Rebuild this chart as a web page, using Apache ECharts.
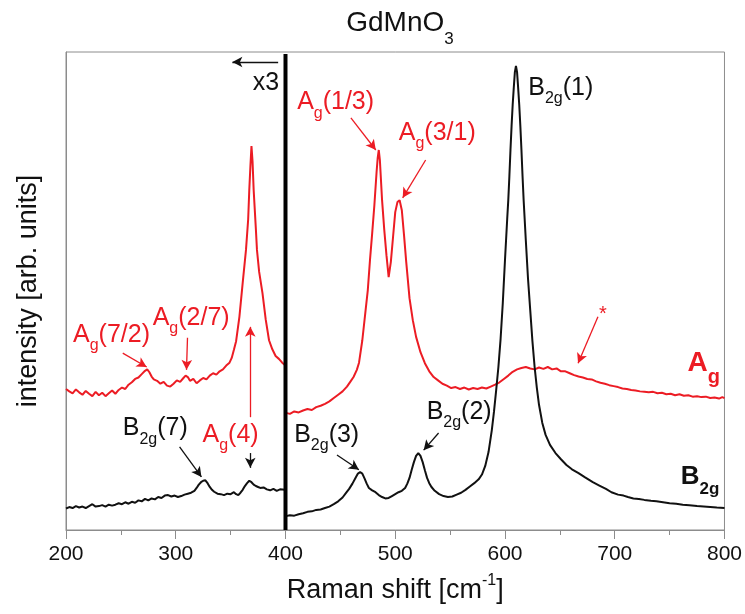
<!DOCTYPE html>
<html><head><meta charset="utf-8">
<script src="https://cdn.jsdelivr.net/npm/echarts@6/dist/echarts.min.js"></script>
<style>html,body{margin:0;padding:0;background:#fff}#c{width:745px;height:614px}</style>
</head><body><div id="c"></div>
<script>
const FONT = '"Liberation Sans", Arial, Helvetica, sans-serif';
const RED = '#ec1c24';
const BLACK = '#111111';

// x-axis ticks
const xTicks = [200, 300, 400, 500, 600, 700, 800];

// Ag spectrum (low part x3, then high part)
const agShift = [200,203,206,209,212,215,218,221,224,227,230,233,236,239,242,245,248,251,254,257,260,263,266,269,272,274,276,278,280,283,286,289,292,295,298,301,304,307,309,311,313,316,319,322,325,328,331,334,337,340,343,346,349,351,353,355,358,361,364,366,367,368,369,370,371,373,374,376,379,382,385,388,391,394,397,399.5,
 400.5,404,408,412,416,420,424,428,432,436,440,444,448,452,456,459,462,465,467,470,473,475,477,479,481,483,484,485,486,488,490,492,494,496,498,500,502,504,506,508,510,513,516,519,523,527,531,535,539,543,547,551,555,559,563,567,571,575,579,583,587,591,595,599,603,607,611,615,619,623,627,631,635,639,643,647,651,655,659,663,667,671,675,679,683,687,691,695,699,703,707,711,715,719,723,727,731,735,739,743,747,751,755,759,763,767,771,775,779,783,787,791,795,798,800];
const agIntensity = [29.5,29.0,28.6,29.4,28.8,28.3,29.1,28.5,28.0,28.9,28.2,28.7,28.0,28.6,29.2,28.5,29.3,29.8,29.5,30.4,30.9,31.6,31.9,32.6,33.3,33.6,33.0,32.1,31.5,31.2,30.6,31.0,30.2,30.0,30.6,31.3,31.0,31.8,32.3,32.0,31.2,31.6,30.7,31.3,31.8,31.5,32.3,32.8,32.5,33.2,33.6,34.4,35.0,36.0,37.7,39.5,44.6,51.7,58.6,65.0,71.1,76.0,80.3,77.0,71.1,63.0,58.6,54.0,49.6,44.0,39.7,37.8,36.4,35.8,35.0,34.5,
 24.5,24.3,24.8,24.6,25.0,25.3,25.1,25.7,26.0,26.4,26.9,27.6,28.3,29.0,30.0,31.0,32.0,33.5,35.0,39.7,46.0,50.2,56.5,62.1,68.0,74.9,77.8,79.5,77.4,69.0,62.8,57.5,52.9,56.1,61.3,66.5,68.6,69.0,66.9,61.7,56.1,48.5,43.9,40.4,37.2,34.9,33.2,32.0,31.3,30.6,30.2,29.7,29.9,29.5,29.8,29.4,29.7,29.5,29.8,29.6,30.0,30.4,30.9,31.6,32.3,33.1,33.6,33.9,34.1,33.8,33.6,34.0,33.7,34.1,33.6,33.8,33.2,33.2,32.8,32.4,32.1,31.9,31.6,31.5,31.1,30.8,30.6,30.3,30.1,29.9,29.6,29.5,29.3,29.2,29.0,28.9,28.8,28.9,28.6,28.7,28.4,28.5,28.2,28.4,28.1,28.2,27.9,28.0,27.8,27.9,27.6,27.7,27.5,27.8,27.6];

// B2g spectrum (low part x3, then high part)
const b2gShift = [200,203,206,209,212,215,218,221,224,227,230,233,236,239,242,245,248,251,254,257,260,263,266,269,272,275,278,281,284,287,290,293,296,299,302,305,308,311,314,317,319,321,323,325,326,327,329,331,333,335,338,341,344,347,350,353,355,357,359,361,363,365,367,369,371,373,375,377,380,383,386,389,392,395,399.5,
 400.5,404,408,412,416,420,424,428,432,436,440,444,448,452,455,458,461,464,466,468,470,472,474,476,479,482,485,488,491,494,497,500,503,506,509,511,513,515,517,519,521,523,525,527,529,531,533,536,540,544,548,552,556,560,564,568,572,576,579,582,585,588,590,592,594,596,598,600,602,603,604,605,606,607,608,609,610,611,612,613,614,615,616,617,619,621,623,625,627,629,631,634,637,641,646,651,656,661,667,673,680,686,692,697,703,708,712,717,722,727,733,738,744,750,756,762,768,775,781,787,793,800];
const b2gIntensity = [4.5,4.8,4.6,5.0,4.7,4.9,4.6,5.0,5.4,4.9,5.0,5.2,4.9,5.3,5.1,5.3,5.6,5.4,5.8,5.5,5.9,5.7,6.2,6.0,6.5,6.2,6.6,6.4,6.9,6.7,7.2,7.3,7.0,7.2,6.9,7.1,7.4,7.6,7.8,8.2,8.8,9.5,10.0,10.3,10.6,10.4,9.8,9.0,8.4,8.0,7.6,7.5,7.3,7.6,7.5,7.9,7.5,7.3,7.8,8.4,9.2,9.8,10.3,10.0,9.5,9.2,9.0,8.8,8.9,8.5,8.3,8.6,8.2,8.5,8.4,
 2.9,3.1,3.0,3.3,3.5,3.8,3.9,4.2,4.3,4.6,4.9,5.4,6.0,6.8,7.7,8.6,9.7,11.0,11.8,12.1,11.8,10.8,9.7,8.8,8.3,7.9,7.3,6.9,6.6,6.7,7.1,7.5,7.9,8.2,8.8,9.7,10.9,12.6,14.2,15.5,16.1,15.5,14.2,12.5,10.9,9.8,9.0,8.2,7.5,7.1,6.9,7.0,7.4,7.8,8.4,9.1,9.8,10.6,11.6,13.4,16.3,20.9,24.8,29.3,34.1,40.0,47.5,56.5,65.0,69.0,74.0,79.5,84.5,88.9,92.5,95.8,97.1,95.8,92.5,88.9,84.5,79.5,74.0,69.0,60.5,52.5,46.0,39.5,34.1,29.8,26.2,22.4,19.9,17.8,16.1,14.8,13.6,12.7,11.9,11.0,10.0,9.3,8.6,7.9,7.4,7.2,6.9,6.6,6.5,6.3,6.1,6.0,5.8,5.6,5.5,5.3,5.2,5.0,4.9,4.8,4.7,4.6];

// scale-change divider at 400 cm-1
const dividerShift = [400, 400];
const dividerIntensity = [0, 99.6];

// annotation texts (anchor in data units)
const annotations = [
  {text: '{a|A}{s|g}{a|(7/2)}', at: [206.4, 40.8], color: RED, align: 'left'},
  {text: '{a|A}{s|g}{a|(2/7)}', at: [279.0, 44.4], color: RED, align: 'left'},
  {text: '{a|A}{s|g}{a|(4)}', at: [324.4, 19.9], color: RED, align: 'left'},
  {text: '{a|B}{s|2g}{a|(7)}', at: [251.7, 21.3], color: BLACK, align: 'left'},
  {text: '{a|B}{s|2g}{a|(3)}', at: [407.9, 19.9], color: BLACK, align: 'left'},
  {text: '{a|B}{s|2g}{a|(2)}', at: [528.6, 24.7], color: BLACK, align: 'left'},
  {text: '{a|A}{s|g}{a|(1/3)}', at: [410.6, 89.5], color: RED, align: 'left'},
  {text: '{a|A}{s|g}{a|(3/1)}', at: [503.2, 83.1], color: RED, align: 'left'},
  {text: '{a|B}{s|2g}{a|(1)}', at: [621.2, 92.5], color: BLACK, align: 'left'},
  {text: '{a|x3}', at: [394.2, 93.5], color: BLACK, align: 'right'},
  {text: '{t|*}', at: [689.3, 45.0], color: RED, align: 'center'},
  {text: '{A|A}{S|g}', at: [766.4, 34.9], color: RED, align: 'left', bold: true, big: 28, small: 20, lh: 48},
  {text: '{A|B}{S|2g}', at: [760.1, 11.1], color: BLACK, align: 'left', bold: true, big: 26, small: 17, lh: 41}
];

// arrows: [from, to] in data units
const redArrows = [
  [[251.7, 37.0], [273.5, 34.1]],
  [[310.7, 40.2], [309.8, 33.5]],
  [[367.9, 23.6], [367.9, 42.5]],
  [[459.6, 86.2], [482.3, 79.5]],
  [[527.7, 77.4], [506.8, 69.5]],
  [[684.7, 44.6], [666.6, 34.9]]
];
const blackArrows = [
  [[367.9, 16.1], [367.9, 13.0]],
  [[303.5, 17.4], [323.4, 11.1]],
  [[446.9, 15.7], [466.9, 12.6]],
  [[539.5, 20.3], [525.9, 16.7]],
  [[393.3, 97.9], [351.6, 97.9]]
];

const zip = (xs, ys) => xs.map((x, i) => [x, ys[i]]);
const arrowLines = (list) => list.map(a => [{coord: a[0]}, {coord: a[1]}]);

const chart = echarts.init(document.getElementById('c'), null, {renderer: 'canvas'});
const GRAY = '#8c8c8c';
const option = {
  animation: false,
  backgroundColor: '#fff',
  grid: {left: 66, right: 18, top: 52, bottom: 84, show: true, borderColor: GRAY, borderWidth: 1, backgroundColor: 'transparent'},
  xAxis: {
    type: 'value', min: 200, max: 800, interval: 100,
    name: '{a|Raman shift [cm}{p|-1}{a|]}', nameLocation: 'middle', nameGap: 43,
    nameTextStyle: {color: BLACK, fontFamily: FONT, fontSize: 27,
      rich: {a: {fontSize: 27, lineHeight: 36, color: BLACK, fontFamily: FONT},
             p: {fontSize: 16, lineHeight: 16, verticalAlign: 'top', color: BLACK, fontFamily: FONT}}},
    axisLine: {show: true, lineStyle: {color: GRAY, width: 1}},
    axisTick: {show: true, inside: false, length: 9, lineStyle: {color: GRAY}},
    minorTick: {show: true, splitNumber: 2, length: 5, lineStyle: {color: GRAY}},
    axisLabel: {fontSize: 21, color: BLACK, fontFamily: FONT, margin: 14,
      formatter: v => xTicks.includes(v) ? String(v) : ''},
    splitLine: {show: false}
  },
  yAxis: {
    type: 'value', min: 0, max: 100,
    name: 'intensity [arb. units]', nameLocation: 'middle', nameGap: 24,
    nameTextStyle: {color: BLACK, fontFamily: FONT, fontSize: 27},
    axisLine: {show: true, lineStyle: {color: GRAY}},
    axisTick: {show: false}, axisLabel: {show: false}, splitLine: {show: false}
  },
  series: [
    {type: 'line', name: 'Ag', data: zip(agShift, agIntensity), showSymbol: false, symbol: 'none',
     lineStyle: {color: RED, width: 2}, z: 2,
     markLine: {silent: true, symbol: ['none', 'arrow'], symbolSize: [8, 10], animation: false,
       lineStyle: {color: RED, width: 1.3, type: 'solid'}, label: {show: false},
       emphasis: {disabled: true}, data: arrowLines(redArrows)}},
    {type: 'line', name: 'B2g', data: zip(b2gShift, b2gIntensity), showSymbol: false, symbol: 'none',
     lineStyle: {color: BLACK, width: 2}, z: 3,
     markLine: {silent: true, symbol: ['none', 'arrow'], symbolSize: [8, 10], animation: false,
       lineStyle: {color: BLACK, width: 1.3, type: 'solid'}, label: {show: false},
       emphasis: {disabled: true}, data: arrowLines(blackArrows)}},
    {type: 'line', name: 'divider', data: zip(dividerShift, dividerIntensity), showSymbol: false, symbol: 'none',
     lineStyle: {color: '#000', width: 4}, z: 4}
  ]
};
chart.setOption(option);

const graphics = [];
graphics.push({type: 'text', x: 400, y: 23, z: 10, style: {
  text: '{a|GdMnO}{s|3}', align: 'center', verticalAlign: 'middle',
  rich: {a: {fontSize: 28, lineHeight: 50, fill: BLACK, fontFamily: FONT},
         s: {fontSize: 17, lineHeight: 17, verticalAlign: 'bottom', fill: BLACK, fontFamily: FONT}}}});
annotations.forEach(a => {
  const p = chart.convertToPixel({gridIndex: 0}, a.at);
  let rich;
  if (a.bold) {
    rich = {A: {fontSize: a.big, fontWeight: 'bold', lineHeight: a.lh, fill: a.color, fontFamily: FONT},
            S: {fontSize: a.small, fontWeight: 'bold', lineHeight: a.small, verticalAlign: 'bottom', fill: a.color, fontFamily: FONT}};
  } else {
    rich = {a: {fontSize: 25, lineHeight: 38, fill: a.color, fontFamily: FONT},
            s: {fontSize: 16, lineHeight: 16, verticalAlign: 'bottom', fill: a.color, fontFamily: FONT},
            t: {fontSize: 20, lineHeight: 20, fill: a.color, fontFamily: FONT}};
  }
  graphics.push({type: 'text', x: p[0], y: p[1], z: 10, style: {
    text: a.text, align: a.align, verticalAlign: 'middle', rich: rich}});
});
chart.setOption({graphic: graphics});
</script></body></html>
